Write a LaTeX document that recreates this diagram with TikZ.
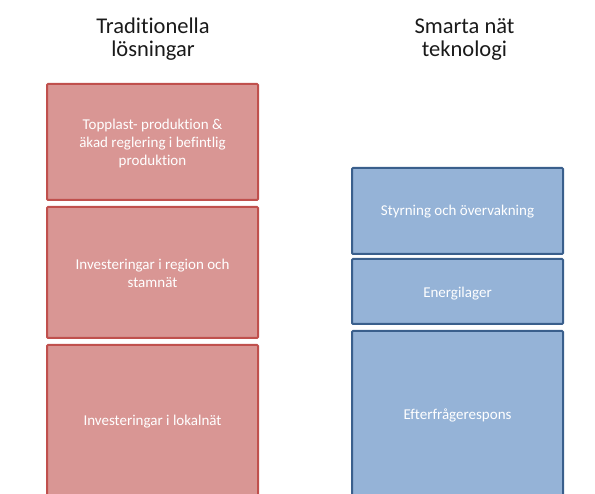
\documentclass[tikz,border=0pt]{standalone}
\usepackage{fontspec}
\setmainfont[Ligatures=NoCommon]{Carlito}
\definecolor{redfill}{HTML}{D99694}
\definecolor{redline}{HTML}{C0504D}
\definecolor{bluefill}{HTML}{95B3D7}
\definecolor{blueline}{HTML}{3A5F8C}
\definecolor{titletext}{HTML}{1A1A1A}
\tikzset{
  redbox/.style={draw=redline, fill=redfill, line width=2pt, rounded corners=1pt},
  bluebox/.style={draw=blueline, fill=bluefill, line width=2pt, rounded corners=1pt},
  boxtext/.style={text=white, font=\fontsize{15}{18}\selectfont, anchor=base, inner sep=0pt},
  headtext/.style={text=titletext, font=\fontsize{22.5}{22.5}\selectfont, anchor=base, inner sep=0pt}
}
\begin{document}
\begin{tikzpicture}[x=1pt,y=-1pt]
\useasboundingbox (0,0) rectangle (595,494);
\clip (0,0) rectangle (595,494);
% column headings (one node per line, placed on its baseline)
\node[headtext] (hl1) at (153,33.5) {Traditionella};
\node[headtext] (hl2) at (153,57) {lösningar};
\node[headtext] (hr1) at (464.5,34) {Smarta nät};
\node[headtext] (hr2) at (464.5,57) {teknologi};
% traditional solutions
\draw[redbox] (47,84) rectangle (258,200);
\node[boxtext] (l1a) at (152.5,130) {Topplast- produktion \&};
\node[boxtext] (l1b) at (152.5,148) {äkad reglering i befintlig};
\node[boxtext] (l1c) at (152.5,166) {produktion};
\draw[redbox] (47,207) rectangle (258,338);
\node[boxtext] (l2a) at (152.5,270) {Investeringar i region och};
\node[boxtext] (l2b) at (152.5,287.5) {stamnät};
\draw[redbox] (47,345) rectangle (258,500);
\node[boxtext] (l3) at (152.5,425.5) {Investeringar i lokalnät};
% smart grid technology
\draw[bluebox] (352,168) rectangle (563,254);
\node[boxtext] (r1) at (457.5,215.5) {Styrning och övervakning};
\draw[bluebox] (352,259) rectangle (563,324);
\node[boxtext] (r2) at (457.5,298) {Energilager};
\draw[bluebox] (352,331) rectangle (563,500);
\node[boxtext] (r3) at (457.5,420) {Efterfrågerespons};
\end{tikzpicture}
\end{document}
